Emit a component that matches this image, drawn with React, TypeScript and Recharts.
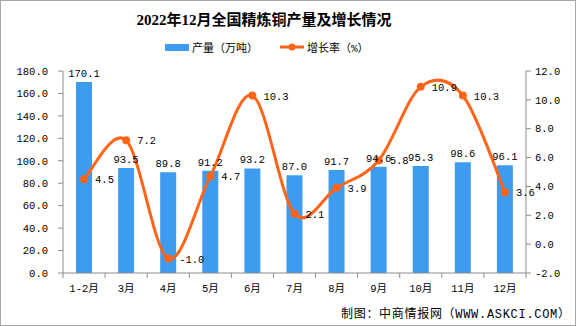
import { ComposedChart, Bar, Line, XAxis, YAxis, LabelList } from 'recharts'

const months = ['1-2月', '3月', '4月', '5月', '6月', '7月', '8月', '9月', '10月', '11月', '12月']
const output = [170.1, 93.5, 89.8, 91.2, 93.2, 87.0, 91.7, 94.6, 95.3, 98.6, 96.1]
const growth = [4.5, 7.2, -1.0, 4.7, 10.3, 2.1, 3.9, 5.8, 10.9, 10.3, 3.6]
const leftTicks = [0, 20, 40, 60, 80, 100, 120, 140, 160, 180]
const rightTicks = [-2, 0, 2, 4, 6, 8, 10, 12]

const data = months.map((m, i) => ({ month: m, output: output[i], growth: growth[i] }))

const BLUE = '#3d9cf0'
const ORANGE = '#ff6418'
const AXIS = '#8c8c8c'
const FONT = "'Liberation Mono', 'Noto Sans CJK SC', monospace"

// excel-like smoothing (catmull-rom through every point)
const smoothCurve = (context: any) => {
  let pts: number[][] = []
  return {
    areaStart() {},
    areaEnd() {},
    lineStart() {
      pts = []
    },
    lineEnd() {
      const n = pts.length
      if (!n) return
      context.moveTo(pts[0][0], pts[0][1])
      for (let i = 0; i < n - 1; i++) {
        const p0 = pts[Math.max(i - 1, 0)]
        const p1 = pts[i]
        const p2 = pts[i + 1]
        const p3 = pts[Math.min(i + 2, n - 1)]
        context.bezierCurveTo(
          p1[0] + (p2[0] - p0[0]) / 6,
          p1[1] + (p2[1] - p0[1]) / 6,
          p2[0] - (p3[0] - p1[0]) / 6,
          p2[1] - (p3[1] - p1[1]) / 6,
          p2[0],
          p2[1]
        )
      }
    },
    point(x: number, y: number) {
      pts.push([+x, +y])
    },
  }
}

const MonthTick = ({ x, y, payload, index, width, visibleTicksCount }: any) => {
  const half = width && visibleTicksCount ? width / visibleTicksCount / 2 : 21
  return (
    <g>
      <line x1={x - half} x2={x - half} y1={y} y2={y + 5} stroke={AXIS} />
      {index === visibleTicksCount - 1 && (
        <line x1={x + half} x2={x + half} y1={y} y2={y + 5} stroke={AXIS} />
      )}
      <text x={x} y={y + 19} textAnchor="middle" fontSize={10.5} fontFamily={FONT} fill="#000">
        {payload.value}
      </text>
    </g>
  )
}

const GrowthLabel = ({ x, y, value }: any) => (
  <text x={x + 11} y={y + 4} fontSize={10.5} fontFamily={FONT} fill="#000">
    {Number(value).toFixed(1)}
  </text>
)

const App = () => {
  return (
    <div
      style={{
        position: 'absolute',
        left: 0,
        top: 0,
        width: 576,
        height: 326,
        background: '#fff',
        border: '1px solid #a6a6a6',
        boxSizing: 'border-box',
        fontFamily: FONT,
      }}
    >
      <div
        style={{
          position: 'absolute',
          top: 7,
          left: 0,
          width: 526,
          textAlign: 'center',
          fontSize: 15,
          fontWeight: 'bold',
          fontFamily: "'Liberation Serif', 'Noto Sans CJK SC', serif",
          color: '#000',
        }}
      >
        2022年12月全国精炼铜产量及增长情况
      </div>
      <div style={{ position: 'absolute', top: 38, left: 164, display: 'flex', alignItems: 'center', fontSize: 11 }}>
        <span style={{ display: 'inline-block', width: 24, height: 7, background: BLUE, marginRight: 3 }} />
        <span>产量（万吨）</span>
        <svg width={24} height={10} style={{ marginLeft: 22, marginRight: 3 }}>
          <line x1={0} x2={24} y1={5} y2={5} stroke={ORANGE} strokeWidth={3} />
          <circle cx={12} cy={5} r={3.5} fill={ORANGE} />
        </svg>
        <span>增长率（%）</span>
      </div>
      <ComposedChart
        width={576}
        height={326}
        data={data}
        margin={{ top: 71, right: 0, bottom: 0, left: 0 }}
        style={{ position: 'absolute', left: -1, top: -1 }}
      >
        <XAxis
          dataKey="month"
          height={53}
          stroke={AXIS}
          tickLine={false}
          tickSize={0}
          tickMargin={0}
          interval={0}
          tick={<MonthTick />}
        />
        <YAxis
          yAxisId="left"
          width={63}
          domain={[0, 180]}
          ticks={leftTicks}
          interval={0}
          stroke={AXIS}
          tickSize={5}
          tickMargin={10}
          tickFormatter={(v: number) => v.toFixed(1)}
          tick={{ fontSize: 10.5, fontFamily: FONT, fill: '#000' }}
        />
        <YAxis
          yAxisId="right"
          orientation="right"
          width={50}
          domain={[-2, 12]}
          ticks={rightTicks}
          interval={0}
          stroke={AXIS}
          tickSize={5}
          tickMargin={4}
          tickFormatter={(v: number) => v.toFixed(1)}
          tick={{ fontSize: 10.5, fontFamily: FONT, fill: '#000' }}
        />
        <Bar yAxisId="left" dataKey="output" fill={BLUE} barSize={16} isAnimationActive={false}>
          <LabelList
            dataKey="output"
            position="top"
            offset={5}
            formatter={(v: any) => Number(v).toFixed(1)}
            style={{ fontSize: 10.5, fontFamily: FONT, fill: '#000' }}
          />
        </Bar>
        <Line
          yAxisId="right"
          dataKey="growth"
          type={smoothCurve as any}
          stroke={ORANGE}
          strokeWidth={3}
          dot={{ r: 4, fill: ORANGE, stroke: ORANGE, strokeWidth: 0 }}
          activeDot={false}
          isAnimationActive={false}
        >
          <LabelList dataKey="growth" content={<GrowthLabel />} />
        </Line>
      </ComposedChart>
      <div
        style={{
          position: 'absolute',
          top: 303,
          left: 340,
          fontSize: 12,
          letterSpacing: 0.7,
          color: '#000',
          whiteSpace: 'nowrap',
        }}
      >
        制图：中商情报网（WWW.ASKCI.COM）
      </div>
    </div>
  )
}

export default App
